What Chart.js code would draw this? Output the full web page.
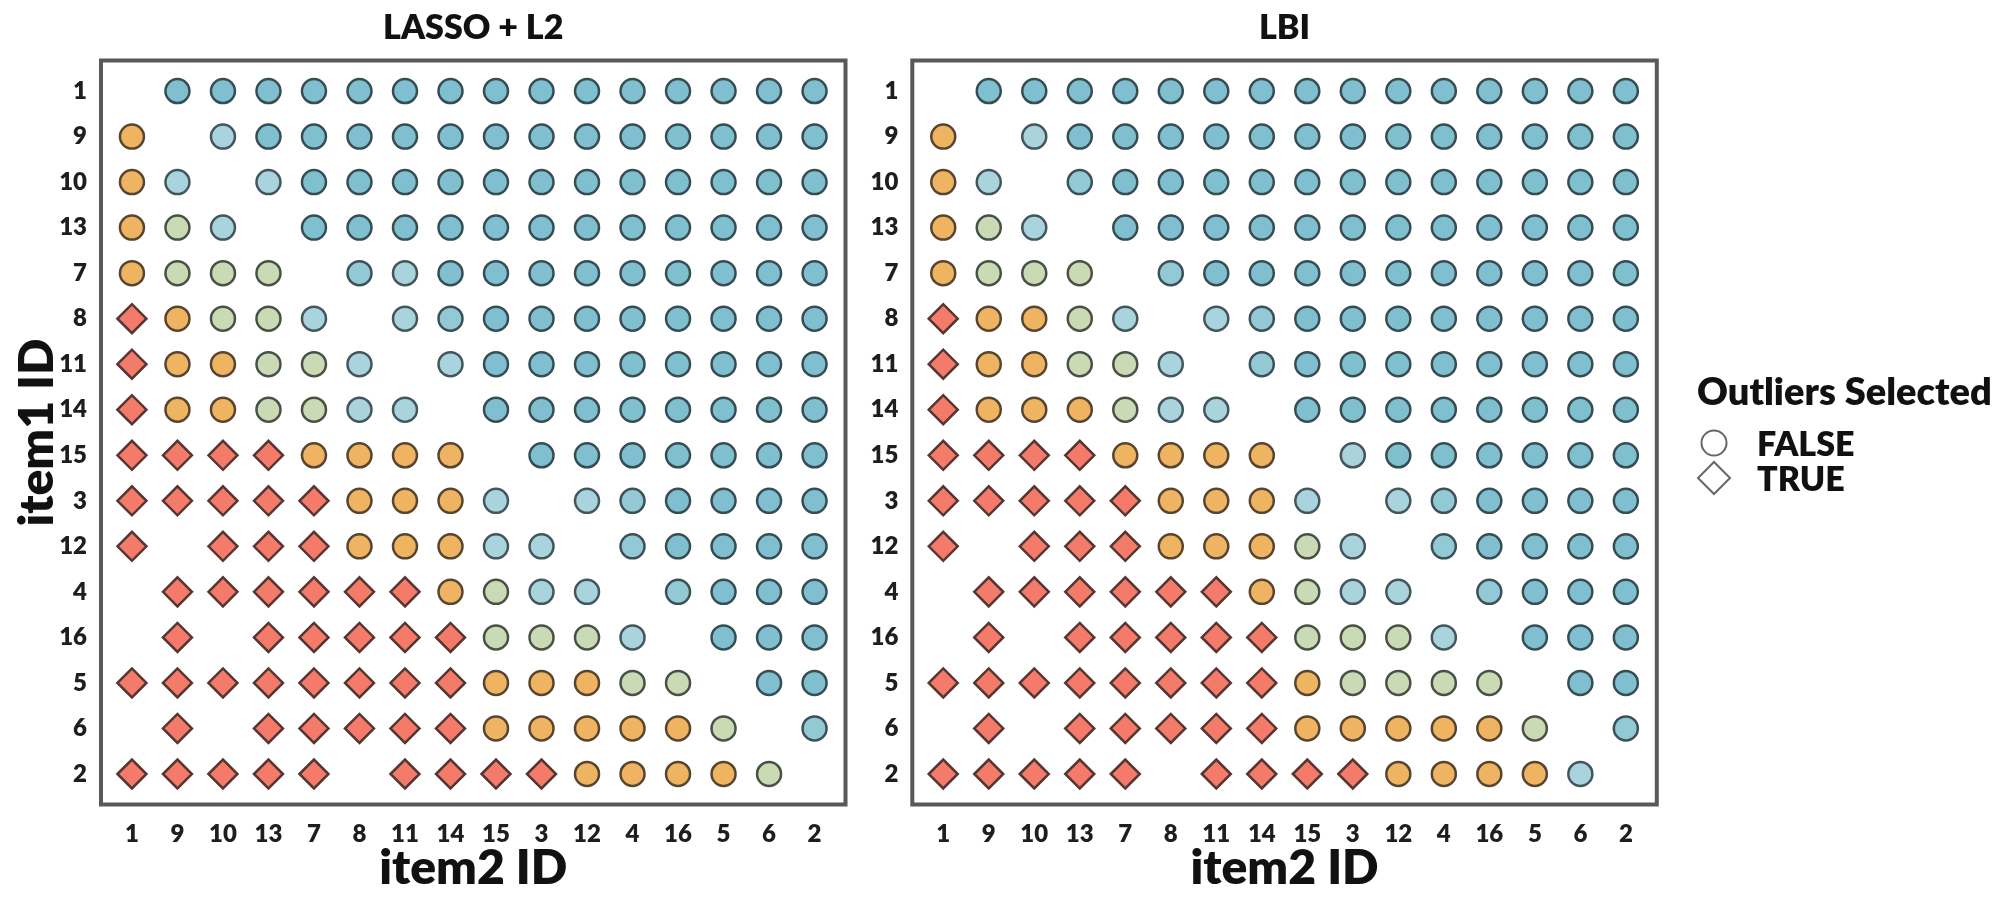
<!DOCTYPE html>
<html>
<head>
<meta charset="utf-8">
<script src="https://cdn.jsdelivr.net/npm/chart.js@4.4.1/dist/chart.umd.min.js"></script>
<style>
  html, body { margin: 0; padding: 0; background: #ffffff; }
  body { width: 2011px; height: 900px; position: relative; overflow: hidden; font-family: Lato, "Open Sans", sans-serif; }
  .chartbox { position: absolute; top: 0; }
  #legend { position: absolute; left: 0; top: 0; width: 2011px; height: 900px; pointer-events: none; }
  .lg { position: absolute; font-family: Lato, sans-serif; font-weight: 800; color: #111; white-space: nowrap; }
</style>
</head>
<body>
<div class="chartbox" style="left:0px;"><canvas id="c1" width="870" height="900"></canvas></div>
<div class="chartbox" style="left:860px;"><canvas id="c2" width="820" height="900"></canvas></div>
<div id="legend">
  <div class="lg" style="left:1697px; top:368px; font-size:38px; line-height:44px;">Outliers Selected</div>
  <svg style="position:absolute; left:1690px; top:420px;" width="50" height="80">
    <circle cx="24" cy="23" r="12.5" fill="none" stroke="#666" stroke-width="2"></circle>
    <polygon points="24,42 40,58 24,74 8,58" fill="none" stroke="#666" stroke-width="2"></polygon>
  </svg>
  <div class="lg" style="left:1757px; top:423px; font-size:34px; line-height:40px;">FALSE</div>
  <div class="lg" style="left:1757px; top:458px; font-size:34px; line-height:40px;">TRUE</div>
</div>
<script>
// ---------------- DATA ----------------
// item order used on both axes (rows = item1, columns = item2)
const itemOrder = ['1','9','10','13','7','8','11','14','15','3','12','4','16','5','6','2'];
const panelTitles = ['LASSO + L2', 'LBI'];
const xAxisTitle = 'item2 ID';
const yAxisTitle = 'item1 ID';
const legendTitle = 'Outliers Selected';
const legendLabels = ['FALSE', 'TRUE'];

// tier per cell: 0 = outlier selected (TRUE), 1..5 = not selected (FALSE), graded score; null = empty
const _ = null;
const lassoTiers = [
  [_,5,5,5,5,5,5,5,5,5,5,5,5,5,5,5],
  [1,_,3,5,5,5,5,5,5,5,5,5,5,5,5,5],
  [1,3,_,3,5,5,5,5,5,5,5,5,5,5,5,5],
  [1,2,3,_,5,5,5,5,5,5,5,5,5,5,5,5],
  [1,2,2,2,_,4,3,5,5,5,5,5,5,5,5,5],
  [0,1,2,2,3,_,3,4,5,5,5,5,5,5,5,5],
  [0,1,1,2,2,3,_,3,5,5,5,5,5,5,5,5],
  [0,1,1,2,2,3,3,_,5,5,5,5,5,5,5,5],
  [0,0,0,0,1,1,1,1,_,5,5,5,5,5,5,5],
  [0,0,0,0,0,1,1,1,3,_,3,4,5,5,5,5],
  [0,_,0,0,0,1,1,1,3,3,_,4,5,5,5,5],
  [_,0,0,0,0,0,0,1,2,3,3,_,4,5,5,5],
  [_,0,_,0,0,0,0,0,2,2,2,3,_,5,5,5],
  [0,0,0,0,0,0,0,0,1,1,1,2,2,_,5,5],
  [_,0,_,0,0,0,0,0,1,1,1,1,1,2,_,4],
  [0,0,0,0,0,_,0,0,0,0,1,1,1,1,2,_]
];
const lbiTiers = [
  [_,5,5,5,5,5,5,5,5,5,5,5,5,5,5,5],
  [1,_,3,5,5,5,5,5,5,5,5,5,5,5,5,5],
  [1,3,_,4,5,5,5,5,5,5,5,5,5,5,5,5],
  [1,2,3,_,5,5,5,5,5,5,5,5,5,5,5,5],
  [1,2,2,2,_,4,5,5,5,5,5,5,5,5,5,5],
  [0,1,1,2,3,_,3,4,5,5,5,5,5,5,5,5],
  [0,1,1,2,2,3,_,4,5,5,5,5,5,5,5,5],
  [0,1,1,1,2,3,3,_,5,5,5,5,5,5,5,5],
  [0,0,0,0,1,1,1,1,_,3,5,5,5,5,5,5],
  [0,0,0,0,0,1,1,1,3,_,3,4,5,5,5,5],
  [0,_,0,0,0,1,1,1,2,3,_,4,5,5,5,5],
  [_,0,0,0,0,0,0,1,2,3,3,_,4,5,5,5],
  [_,0,_,0,0,0,0,0,2,2,2,3,_,5,5,5],
  [0,0,0,0,0,0,0,0,1,2,2,2,2,_,5,5],
  [_,0,_,0,0,0,0,0,1,1,1,1,1,2,_,4],
  [0,0,0,0,0,_,0,0,0,0,1,1,1,1,3,_]
];

// ---------------- STYLE ----------------
const tierStyle = [
  { fill: '#f47a69', border: '#553632', shape: 'rectRot', r: 14.5 },
  { fill: '#eeb462', border: '#574530', shape: 'circle', r: 12 },
  { fill: '#c9dab4', border: '#495046', shape: 'circle', r: 12 },
  { fill: '#a9d3dd', border: '#43565b', shape: 'circle', r: 12 },
  { fill: '#93c8d5', border: '#3b5157', shape: 'circle', r: 12 },
  { fill: '#7fbfd0', border: '#364d53', shape: 'circle', r: 12 }
];
const FONT = 'Lato, "Open Sans", sans-serif';
const XMIN = -0.68, XMAX = 15.68, YMIN = -0.67, YMAX = 15.67;

function buildDatasets(tiers) {
  return tierStyle.map((st, t) => {
    const pts = [];
    tiers.forEach((row, ri) => row.forEach((v, ci) => { if (v === t) pts.push({ x: ci, y: ri }); }));
    return {
      label: 'tier' + t,
      data: pts,
      xAxisID: 'x',
      yAxisID: 'y',
      pointStyle: st.shape,
      pointRadius: st.r,
      pointHoverRadius: st.r,
      pointBackgroundColor: st.fill,
      pointBorderColor: st.border,
      pointBorderWidth: 2.5,
      showLine: false
    };
  });
}

const framePlugin = {
  id: 'frame',
  afterDatasetsDraw(chart) {
    const a = chart.chartArea, ctx = chart.ctx;
    ctx.save();
    ctx.strokeStyle = '#595959';
    ctx.lineWidth = 4;
    ctx.strokeRect(a.left, a.top, a.right - a.left, a.bottom - a.top);
    ctx.restore();
  }
};

const itemTicks = s => { s.ticks = itemOrder.map((_, i) => ({ value: i })); };

function makeChart(id, title, tiers, yAxisWidth, padRight, showYTitle) {
  return new Chart(document.getElementById(id), {
    type: 'scatter',
    data: { datasets: buildDatasets(tiers) },
    options: {
      responsive: false,
      animation: false,
      events: [],
      layout: { padding: { left: 0, right: padRight, top: 0, bottom: 0 } },
      plugins: {
        legend: { display: false },
        tooltip: { enabled: false },
        title: { display: false }
      },
      scales: {
        x: {
          type: 'linear', position: 'bottom', min: XMIN, max: XMAX,
          grid: { display: false, drawTicks: false },
          border: { display: false },
          afterBuildTicks: itemTicks,
          afterFit: s => { s.height = 95.5; },
          ticks: {
            autoSkip: false, maxRotation: 0, padding: 15, color: '#1e1e1e',
            font: { family: FONT, size: 24, weight: 800, lineHeight: 1.2 },
            callback: v => itemOrder[v]
          },
          title: {
            display: true, text: xAxisTitle, color: '#111',
            font: { family: FONT, size: 48, weight: 800, lineHeight: 1.0 },
            padding: { top: 0, bottom: 7 }
          }
        },
        xTop: {
          type: 'linear', position: 'top', min: XMIN, max: XMAX,
          grid: { display: false, drawTicks: false },
          border: { display: false },
          afterBuildTicks: itemTicks,
          afterFit: s => { s.height = 60.5; },
          ticks: { display: false },
          title: {
            display: true, text: title, color: '#111',
            font: { family: FONT, size: 34, weight: 800, lineHeight: 1.2 },
            padding: { top: 8, bottom: 0 }
          }
        },
        y: {
          type: 'linear', position: 'left', reverse: true, min: YMIN, max: YMAX,
          grid: { display: false, drawTicks: false },
          border: { display: false },
          afterBuildTicks: itemTicks,
          afterFit: s => { s.width = yAxisWidth; },
          ticks: {
            autoSkip: false, padding: 14, color: '#1e1e1e',
            font: { family: FONT, size: 24, weight: 800, lineHeight: 1.2 },
            callback: v => itemOrder[v]
          },
          title: {
            display: showYTitle, text: yAxisTitle, color: '#111',
            font: { family: FONT, size: 48, weight: 800, lineHeight: 1.0 },
            padding: { top: 14, bottom: 0 }
          }
        }
      }
    },
    plugins: [framePlugin]
  });
}

makeChart('c1', panelTitles[0], lassoTiers, 101, 24.5, true);
makeChart('c2', panelTitles[1], lbiTiers, 52.3, 23.2, false);
</script>
</body>
</html>
